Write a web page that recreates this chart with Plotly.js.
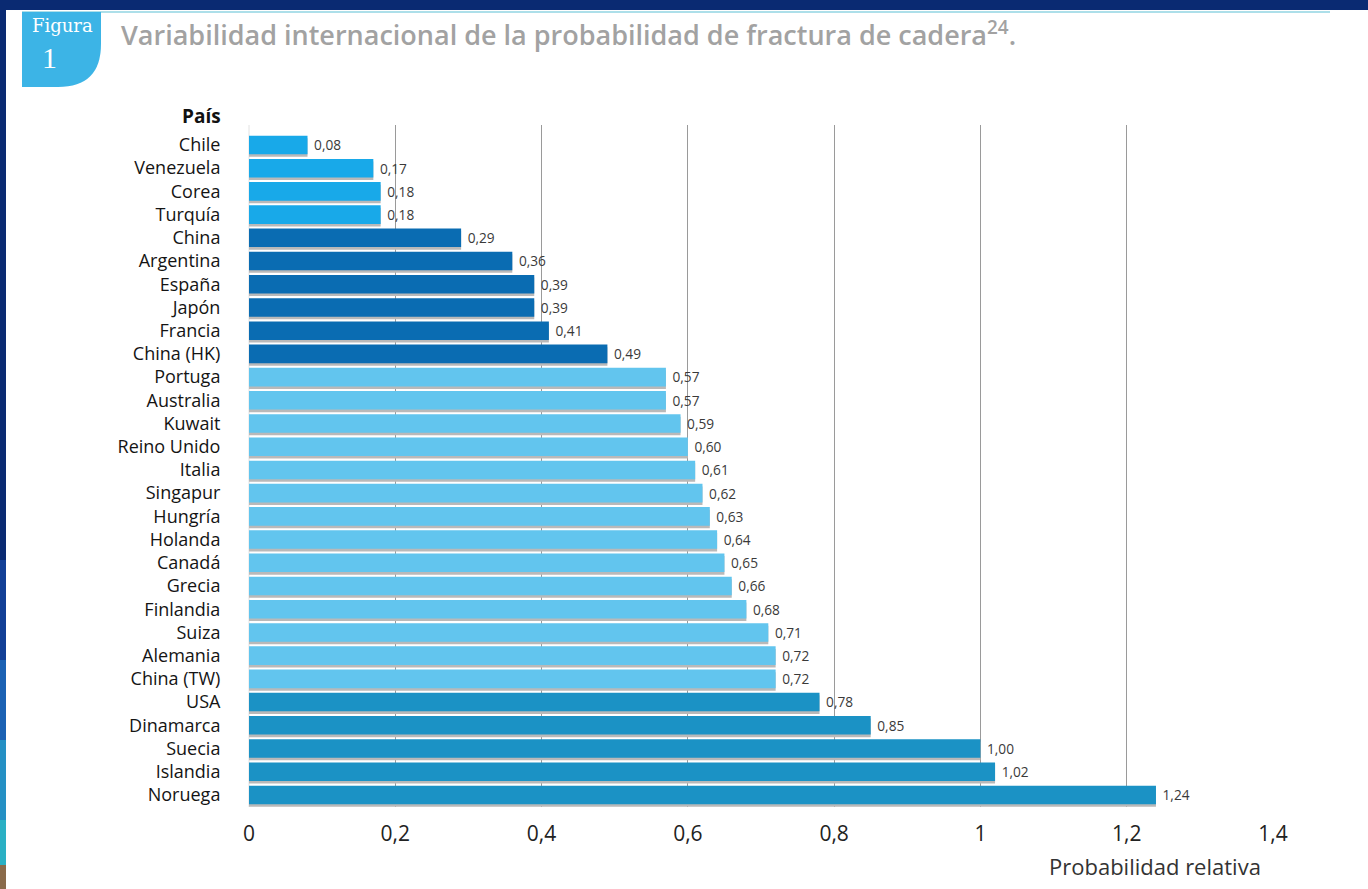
<!DOCTYPE html>
<html>
<head>
<meta charset="utf-8">
<script src="https://cdn.plot.ly/plotly-3.0.1.min.js"></script>
<style>
  html, body { margin: 0; padding: 0; background: #ffffff; }
  #chart { width: 1368px; height: 889px; }
</style>
</head>
<body>
<div id="chart"></div>
<script>
// Hip fracture relative probability by country
const paises = [
  'Chile', 'Venezuela', 'Corea', 'Turquía', 'China', 'Argentina', 'España', 'Japón',
  'Francia', 'China (HK)', 'Portuga', 'Australia', 'Kuwait', 'Reino Unido', 'Italia',
  'Singapur', 'Hungría', 'Holanda', 'Canadá', 'Grecia', 'Finlandia', 'Suiza',
  'Alemania', 'China (TW)', 'USA', 'Dinamarca', 'Suecia', 'Islandia', 'Noruega'
];
const probabilidad = [
  0.08, 0.17, 0.18, 0.18, 0.29, 0.36, 0.39, 0.39,
  0.41, 0.49, 0.57, 0.57, 0.59, 0.60, 0.61,
  0.62, 0.63, 0.64, 0.65, 0.66, 0.68, 0.71,
  0.72, 0.72, 0.78, 0.85, 1.00, 1.02, 1.24
];
// colour group of each country
const grupo = [
  0, 0, 0, 0, 1, 1, 1, 1,
  1, 1, 2, 2, 2, 2, 2,
  2, 2, 2, 2, 2, 2, 2,
  2, 2, 3, 3, 3, 3, 3
];
const coloresGrupo = ['#18a9e9', '#0a6cb2', '#62c5ee', '#1b92c5'];
const ticksX = [0, 0.2, 0.4, 0.6, 0.8, 1, 1.2, 1.4];

// plot area in pixels, used to place the decorations
const L = 249, R = 1273, T = 125, B = 807, W = 1368, H = 889;
const px = x => (x - L) / (R - L);
const py = y => (B - y) / (B - T);
const FONT = '"Open Sans", Lato, sans-serif';

const shadow = {
  type: 'bar', orientation: 'h',
  x: probabilidad, y: paises,
  width: 0.8, offset: -0.4 + 0.11,
  marker: { color: '#b9b9b9', line: { width: 0 } },
  hoverinfo: 'skip', showlegend: false
};

const barras = {
  type: 'bar', orientation: 'h',
  x: probabilidad, y: paises,
  width: 0.8,
  marker: { color: grupo.map(g => coloresGrupo[g]), line: { width: 0 } },
  texttemplate: '\u00a0%{x:.2f}',
  textposition: 'outside',
  textfont: { family: FONT, size: 14, color: '#3a3a3a' },
  cliponaxis: false,
  showlegend: false
};

// slide frame and figure badge
const navy = '#0a2a72';
const shapes = [
  { type: 'rect', xref: 'paper', yref: 'paper', x0: px(0), x1: px(W), y0: py(0), y1: py(10),
    fillcolor: navy, line: { width: 0 }, layer: 'below' },
  { type: 'rect', xref: 'paper', yref: 'paper', x0: px(0), x1: px(6), y0: py(0), y1: py(560),
    fillcolor: navy, line: { width: 0 }, layer: 'below' },
  { type: 'rect', xref: 'paper', yref: 'paper', x0: px(0), x1: px(6), y0: py(560), y1: py(660),
    fillcolor: '#123f96', line: { width: 0 }, layer: 'below' },
  { type: 'rect', xref: 'paper', yref: 'paper', x0: px(0), x1: px(6), y0: py(660), y1: py(740),
    fillcolor: '#1b62b4', line: { width: 0 }, layer: 'below' },
  { type: 'rect', xref: 'paper', yref: 'paper', x0: px(0), x1: px(6), y0: py(740), y1: py(820),
    fillcolor: '#2590c4', line: { width: 0 }, layer: 'below' },
  { type: 'rect', xref: 'paper', yref: 'paper', x0: px(0), x1: px(6), y0: py(820), y1: py(865),
    fillcolor: '#2ab0c4', line: { width: 0 }, layer: 'below' },
  { type: 'rect', xref: 'paper', yref: 'paper', x0: px(0), x1: px(6), y0: py(865), y1: py(889),
    fillcolor: '#8a6a4a', line: { width: 0 }, layer: 'below' },
  { type: 'line', xref: 'paper', yref: 'paper', x0: px(22), x1: px(1330), y0: py(12), y1: py(12),
    line: { color: '#92d4e2', width: 1.5 }, layer: 'below' },
  { type: 'line', xref: 'paper', yref: 'paper', x0: px(L), x1: px(L), y0: py(125), y1: py(807),
    line: { color: '#e2e2e2', width: 1 }, layer: 'below' },
  { type: 'path', xref: 'paper', yref: 'paper', layer: 'below',
    path: `M${px(22)},${py(12)} L${px(101)},${py(12)} L${px(101)},${py(44)} ` +
          `Q${px(101)},${py(87)} ${px(58)},${py(87)} L${px(22)},${py(87)} Z`,
    fillcolor: '#3cb4e6', line: { width: 0 } }
];

const annotations = [
  { xref: 'paper', yref: 'paper', x: px(62), y: py(26), xanchor: 'center', yanchor: 'middle',
    text: 'Figura', showarrow: false,
    font: { family: '"DejaVu Serif", "Liberation Serif", serif', size: 18, color: '#ffffff' } },
  { xref: 'paper', yref: 'paper', x: px(49), y: py(57), xanchor: 'center', yanchor: 'middle',
    text: '1', showarrow: false,
    font: { family: '"Liberation Serif", serif', size: 30, color: '#ffffff' } },
  { xref: 'paper', yref: 'paper', x: px(119), y: py(34), xanchor: 'left', yanchor: 'middle',
    text: 'Variabilidad internacional de la probabilidad de fractura de cadera<sup>24</sup>.',
    showarrow: false,
    font: { family: FONT, size: 27, color: '#a2a2a2', weight: 600 } },
  { xref: 'paper', yref: 'paper', x: px(223), y: py(116), xanchor: 'right', yanchor: 'middle',
    text: '<b>País</b>', showarrow: false,
    font: { family: FONT, size: 19, color: '#111111' } },
  { xref: 'paper', yref: 'paper', x: px(1263), y: py(866), xanchor: 'right', yanchor: 'middle',
    text: 'Probabilidad relativa', showarrow: false,
    font: { family: FONT, size: 22, color: '#333333' } }
];

const layout = {
  width: W, height: H,
  margin: { l: L, r: W - R, t: T, b: H - B, pad: 0 },
  paper_bgcolor: '#ffffff', plot_bgcolor: '#ffffff',
  separators: ',.',
  barmode: 'overlay',
  showlegend: false,
  xaxis: {
    range: [0, 1.4], tickvals: ticksX,
    showgrid: true, gridcolor: '#9a9a9a', gridwidth: 1,
    zeroline: false, showline: false,
    ticks: 'outside', ticklen: 8, tickcolor: 'rgba(0,0,0,0)',
    tickfont: { family: FONT, size: 21, color: '#222222' }
  },
  yaxis: {
    type: 'category', categoryorder: 'array', categoryarray: paises,
    range: [28.52, -0.86],
    showgrid: false, zeroline: false, showline: false,
    ticks: 'outside', ticklen: 24, tickcolor: 'rgba(0,0,0,0)',
    tickfont: { family: FONT, size: 18, color: '#141414' }
  },
  shapes: shapes,
  annotations: annotations
};

Plotly.newPlot('chart', [shadow, barras], layout, { displayModeBar: false, staticPlot: true });
</script>
</body>
</html>
